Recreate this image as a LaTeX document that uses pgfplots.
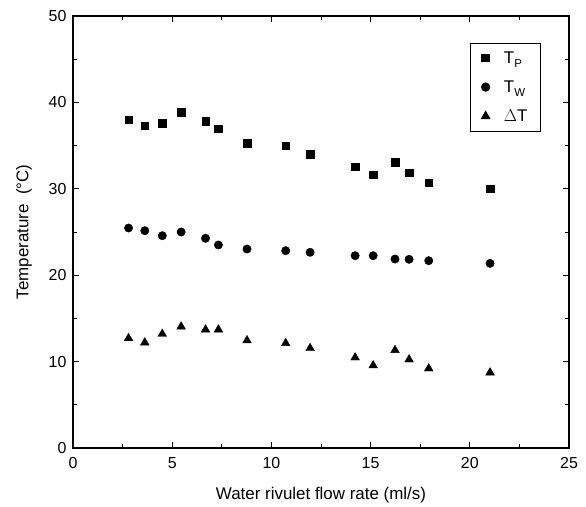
\documentclass[border=0pt]{standalone}
\usepackage{fontspec}
\setmainfont{Liberation Sans}
\usepackage{pgfplots}
\pgfplotsset{compat=1.18}
\newcommand{\sub}[1]{\raisebox{-4.5bp}{\fontsize{11.5}{12}\selectfont #1}}
\begin{document}
\begin{tikzpicture}
\useasboundingbox (-73bp,-59bp) rectangle (513bp,448bp);
\begin{axis}[
  scale only axis,
  width=496bp, height=432bp,
  xmin=0, xmax=25, ymin=0, ymax=50,
  xtick={0,5,10,15,20,25}, ytick={0,10,20,30,40,50},
  minor x tick num=1, minor y tick num=1,
  tick align=inside,
  major tick length=6bp, minor tick length=4bp,
  every tick/.style={black, line width=0.9pt},
  axis line style={line width=1.1pt},
  /pgf/number format/assume math mode=true,
  ticklabel style={font=\fontsize{16}{19}\selectfont},
  xticklabel shift=6bp, yticklabel shift=3bp,
  label style={font=\fontsize{17}{20}\selectfont},
  xlabel={Water rivulet flow rate (ml/s)},
  ylabel={Temperature\ \ (\textdegree C)},
  xlabel shift=12bp, ylabel shift=10bp,
  legend image code/.code={\draw[#1] plot coordinates {(0cm,0cm)};},
  legend style={at={(0.9435,0.9375)}, anchor=north east, draw=black, line width=0.8pt,
    font=\fontsize{17}{20}\selectfont, row sep=12bp, inner xsep=11bp, inner ysep=6bp},
  legend cell align=left,
]
\addplot[only marks, mark=square*, mark size=3.8bp, black] coordinates {
(2.80,38.0) (3.62,37.3) (4.50,37.6) (5.45,38.85) (6.68,37.8) (7.33,36.96) (8.77,35.3)
(10.72,35.0) (11.95,34.0) (14.22,32.55) (15.13,31.63) (16.23,33.07) (16.94,31.87)
(17.93,30.7) (21.02,30.0)};
\addlegendentry{\hspace{12bp}T\sub{P}}
\addplot[only marks, mark=*, mark size=4.2bp, black] coordinates {
(2.80,25.46) (3.62,25.15) (4.50,24.57) (5.45,25.0) (6.68,24.27) (7.33,23.5) (8.77,23.03)
(10.72,22.84) (11.95,22.65) (14.22,22.26) (15.13,22.26) (16.23,21.87) (16.94,21.84)
(17.93,21.68) (21.02,21.37)};
\addlegendentry{\hspace{12bp}T\sub{W}}
\addplot[only marks, mark=triangle*, mark size=5bp, black] coordinates {
(2.80,12.7) (3.62,12.2) (4.50,13.2) (5.45,14.05) (6.68,13.7) (7.33,13.7) (8.77,12.45)
(10.72,12.13) (11.95,11.55) (14.22,10.47) (15.13,9.55) (16.23,11.32) (16.94,10.24)
(17.93,9.2) (21.02,8.73)};
\addlegendentry{\hspace{12bp}$\Delta$T}
\end{axis}
\end{tikzpicture}
\end{document}
